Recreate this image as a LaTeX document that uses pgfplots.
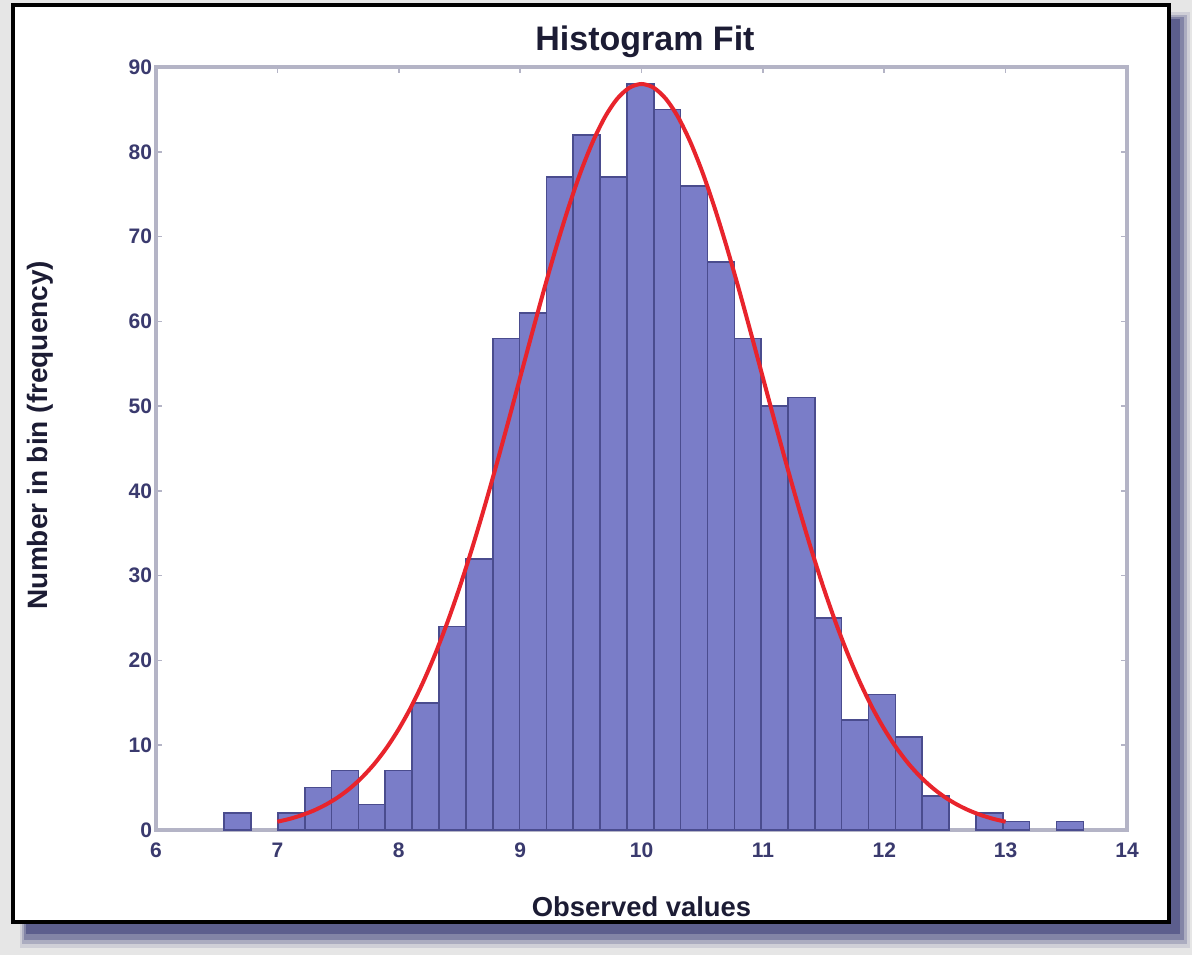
\documentclass[border=0pt]{standalone}
\usepackage{fontspec}
\setmainfont{Liberation Sans}
\usepackage{pgfplots}
\pgfplotsset{compat=1.18}
\definecolor{barfill}{HTML}{7A7DC8}
\definecolor{baredge}{HTML}{4A4C8E}
\definecolor{axcol}{HTML}{B4B4C6}
\definecolor{txt}{HTML}{3A3A6E}
\definecolor{labtxt}{HTML}{1C1C34}
\definecolor{bg}{HTML}{E6E6E6}
\definecolor{shadowc}{HTML}{2E3070}
\definecolor{fitred}{HTML}{E8242C}
\begin{document}
\begin{tikzpicture}
\begin{scope}[x=0.5pt,y=-0.5pt]
\fill[bg] (0,0) rectangle (1192,955);
\fill[shadowc,opacity=0.12] (20,12) rectangle (1190,948);
\fill[shadowc,opacity=0.22] (22,15) rectangle (1187,944);
\fill[shadowc,opacity=0.32] (24,17) rectangle (1184,940);
\fill[shadowc,opacity=0.45] (26,19) rectangle (1180,934);
\filldraw[fill=white,draw=black,line width=2pt] (13,5) rectangle (1169,922);
\end{scope}
\begin{axis}[
  at={(78pt,-415pt)}, anchor=south west,
  scale only axis, width=485.5pt, height=381.5pt,
  xmin=6, xmax=14, ymin=0, ymax=90,
  xtick={6,7,...,14}, ytick={0,10,...,90},
  tick align=inside, major tick length=3pt,
  axis line style={axcol,line width=1.6pt},
  every tick/.style={axcol,line width=0.8pt},
  /pgf/number format/assume math mode=true,
  ticklabel style={font=\bfseries\fontsize{10.5}{12}\selectfont, text=txt},
  xticklabel style={yshift=-3pt},
  yticklabel style={xshift=1.5pt},
  title={Histogram Fit},
  title style={at={(axis description cs:0.5036,1.038)}, anchor=center, yshift=-8pt, font=\bfseries\fontsize{17}{19}\selectfont, text=labtxt},
  xlabel={Observed values},
  xlabel style={at={(axis description cs:0.5,-0.1009)}, anchor=center, font=\bfseries\fontsize{13.7}{16}\selectfont, text=labtxt},
  ylabel={Number in bin (frequency)},
  ylabel style={at={(axis description cs:-0.1195,0.5177)}, anchor=center, font=\bfseries\fontsize{14}{16}\selectfont, text=labtxt},
  clip=false,
]
\addplot[ybar interval, fill=barfill, draw=baredge, line width=0.8pt] coordinates {
(6.562,2) (6.783,2)};
\addplot[ybar interval, fill=barfill, draw=baredge, line width=0.8pt] coordinates {
(7.004,2) (7.226,5) (7.447,7) (7.668,3) (7.889,7) (8.110,15) (8.332,24) (8.553,32)
(8.774,58) (8.995,61) (9.216,77) (9.437,82) (9.659,77) (9.880,88) (10.101,85)
(10.322,76) (10.543,67) (10.765,58) (10.986,50) (11.207,51) (11.428,25) (11.649,13)
(11.871,16) (12.092,11) (12.313,4) (12.534,4)};
\addplot[ybar interval, fill=barfill, draw=baredge, line width=0.8pt] coordinates {
(12.755,2) (12.977,1) (13.198,1)};
\addplot[ybar interval, fill=barfill, draw=baredge, line width=0.8pt] coordinates {
(13.419,1) (13.640,1)};
\addplot[fitred, line width=2pt, smooth] coordinates {
(7.0,0.98) (7.1,1.31) (7.2,1.75) (7.3,2.30) (7.4,3.00) (7.5,3.87) (7.6,4.94) (7.7,6.25)
(7.8,7.82) (7.9,9.70) (8.0,11.91) (8.1,14.47) (8.2,17.42) (8.3,20.75) (8.4,24.47)
(8.5,28.57) (8.6,33.03) (8.7,37.80) (8.8,42.83) (8.9,48.05) (9.0,53.37) (9.1,58.69)
(9.2,63.90) (9.3,68.88) (9.4,73.50) (9.5,77.66) (9.6,81.23) (9.7,84.13) (9.8,86.26)
(9.9,87.56) (10.0,88.0) (10.1,87.56) (10.2,86.26) (10.3,84.13) (10.4,81.23) (10.5,77.66)
(10.6,73.50) (10.7,68.88) (10.8,63.90) (10.9,58.69) (11.0,53.37) (11.1,48.05) (11.2,42.83)
(11.3,37.80) (11.4,33.03) (11.5,28.57) (11.6,24.47) (11.7,20.75) (11.8,17.42) (11.9,14.47)
(12.0,11.91) (12.1,9.70) (12.2,7.82) (12.3,6.25) (12.4,4.94) (12.5,3.87) (12.6,3.00)
(12.7,2.30) (12.8,1.75) (12.9,1.31) (13.0,0.98)};
\end{axis}
\end{tikzpicture}
\end{document}
